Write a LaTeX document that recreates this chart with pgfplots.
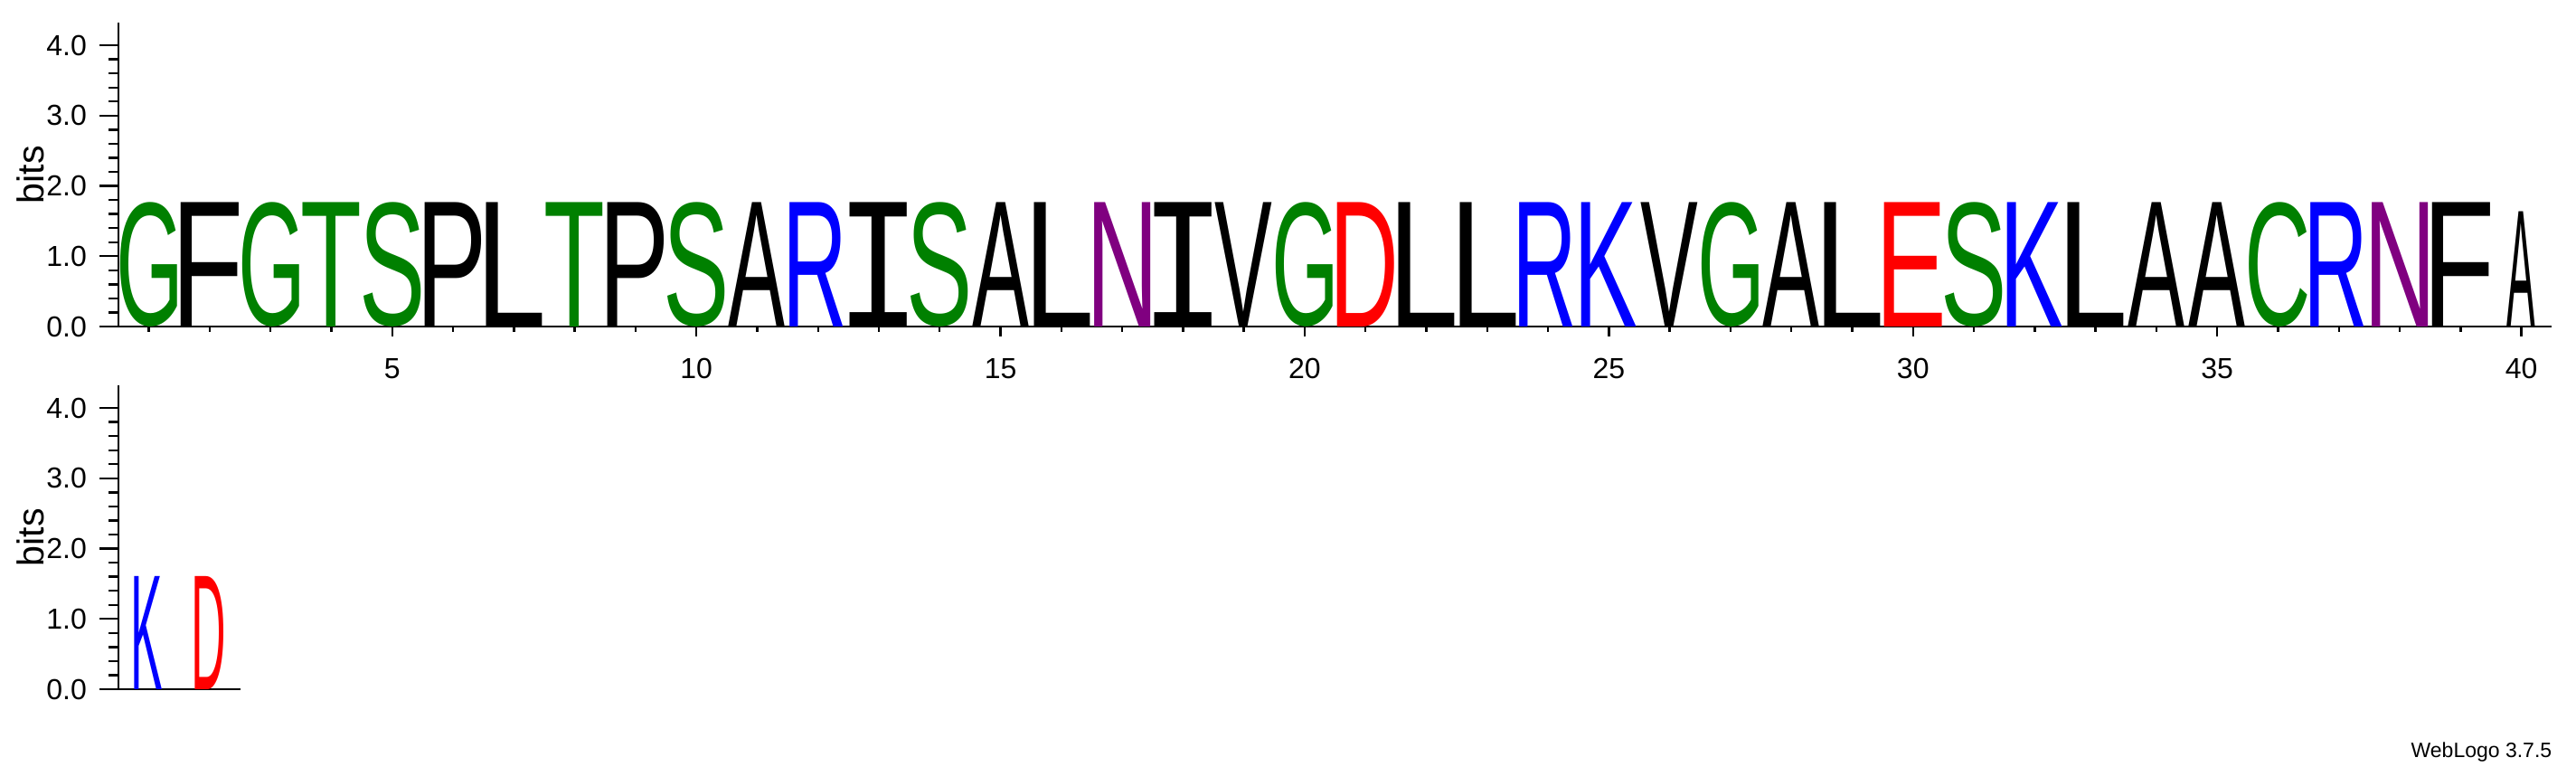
\documentclass[border=0pt]{standalone}
\usepackage{pgfplots}
\usepackage{pgfplotstable}
\pgfplotsset{compat=1.18}
\usepackage{graphicx}
\usepackage{fontspec}
\setmainfont{Liberation Sans}
\newfontfamily\logofont{Liberation Sans}
\newfontfamily\logomono{Liberation Mono}

% residue colours (chemistry scheme)
\definecolor{polar}{RGB}{0,128,0}
\definecolor{neutral}{RGB}{128,0,128}
\definecolor{basic}{RGB}{0,0,255}
\definecolor{acidic}{RGB}{255,0,0}
\colorlet{cG}{polar}\colorlet{cS}{polar}\colorlet{cT}{polar}\colorlet{cC}{polar}
\colorlet{cN}{neutral}
\colorlet{cK}{basic}\colorlet{cR}{basic}
\colorlet{cD}{acidic}\colorlet{cE}{acidic}
\colorlet{cA}{black}\colorlet{cF}{black}\colorlet{cI}{black}\colorlet{cL}{black}
\colorlet{cP}{black}\colorlet{cV}{black}

% one position and one bit, as lengths
\newdimen\xu \xu=16.82pt
\newdimen\yu \yu=19.43pt

% glyphs trimmed to their ink (side bearings in em)
\def\defglyph#1#2#3{\expandafter\def\csname glyph#1\endcsname{\hbox{\logofont\kern-#2em #1\kern-#3em}}}
\defglyph{A}{0}{0}
\defglyph{C}{0.050}{0.053}
\defglyph{D}{0.077}{0.053}
\defglyph{E}{0.079}{0.054}
\defglyph{F}{0.082}{0.049}
\defglyph{G}{0.048}{0.076}
\defglyph{K}{0.073}{0}
\defglyph{L}{0.073}{0.034}
\defglyph{N}{0.076}{0.079}
\defglyph{P}{0.077}{0.053}
\defglyph{R}{0.079}{0.010}
\defglyph{S}{0.046}{0.048}
\defglyph{T}{0.023}{0.020}
\defglyph{V}{0.004}{0.004}
\expandafter\def\csname glyphI\endcsname{\hbox{\logomono\kern-0.1em I\kern-0.1em}}

\newcommand\logoletter[3]{\edef\tmpl{#1}\textcolor{c\tmpl}{\resizebox*{#2\xu}{#3\yu}{\csname glyph\tmpl\endcsname}}}

\pgfplotstableread{
x h w letter
1 1.77 0.936 G
2 1.77 0.936 F
3 1.77 0.936 G
4 1.77 0.936 T
5 1.77 0.936 S
6 1.77 0.936 P
7 1.77 0.936 L
8 1.77 0.936 T
9 1.77 0.936 P
10 1.77 0.936 S
11 1.77 0.936 A
12 1.77 0.936 R
13 1.77 0.936 I
14 1.77 0.936 S
15 1.77 0.936 A
16 1.77 0.936 L
17 1.77 0.936 N
18 1.77 0.936 I
19 1.77 0.936 V
20 1.77 0.936 G
21 1.77 0.936 D
22 1.77 0.936 L
23 1.77 0.936 L
24 1.77 0.936 R
25 1.77 0.936 K
26 1.77 0.936 V
27 1.77 0.936 G
28 1.77 0.936 A
29 1.77 0.936 L
30 1.77 0.936 E
31 1.77 0.936 S
32 1.77 0.936 K
33 1.77 0.936 L
34 1.77 0.936 A
35 1.77 0.936 A
36 1.77 0.936 C
37 1.77 0.936 R
38 1.77 0.936 N
39 1.77 0.936 F
40 1.64 0.47 A
}\toprow

\pgfplotstableread{
x h w letter
1 1.61 0.47 K
2 1.61 0.47 D
}\bottomrow

\pgfplotsset{
  logo/.style={
    anchor=south west,
    x=16.82pt, y=19.43pt,
    ymin=0, ymax=4.3219,
    axis x line*=bottom, axis y line*=left,
    axis line style={line width=0.65pt},
    tick align=outside,
    tick style={black, line width=0.6pt},
    major tick length=5.25pt, minor tick length=2.7pt,
    major x tick style={/pgfplots/major tick length=2.7pt},
    minor x tick style={/pgfplots/minor tick length=1.4pt},
    ytick={0,1,2,3,4}, minor y tick num=4,
    tick label style={font=\fontsize{8}{9.5}\selectfont},
    yticklabel style={/pgf/number format/.cd, fixed, fixed zerofill, precision=1},
    /pgf/number format/assume math mode=true,
    ylabel={bits},
    ylabel style={at={(rel axis cs:0,0.5)}, anchor=south, inner sep=0pt,
      yshift=20.25pt, font=\fontsize{10.3}{12}\selectfont},
  },
  letters/.style={
    draw=none, mark=none,
    point meta=explicit symbolic,
    visualization depends on={\thisrow{w}\as\lw},
    visualization depends on={\thisrow{h}\as\lh},
    nodes near coords={\logoletter{\pgfplotspointmeta}{\lw}{\lh}},
    nodes near coords align={below},
    every node near coord/.append style={inner sep=0pt, outer sep=0pt},
  },
}

\begin{document}
\begin{tikzpicture}
\path[use as bounding box] (0pt,0pt) rectangle (712.25pt,211.75pt);

\begin{axis}[logo, at={(32.75pt,121.5pt)},
  xmin=0.5, xmax=40.5,
  xtick={5,10,...,40}, minor xtick={1,...,40}]
\addplot[letters] table[x=x, y=h, meta=letter] {\toprow};
\end{axis}

\begin{axis}[logo, at={(32.75pt,21.25pt)},
  xmin=0.5, xmax=2.5,
  xtick=\empty, minor xtick={1,2}]
\addplot[letters] table[x=x, y=h, meta=letter] {\bottomrow};
\end{axis}

\node[anchor=base east, inner sep=0pt, font=\fontsize{5.75}{7}\selectfont]
  at (705.75pt,2.5pt) {WebLogo 3.7.5};
\end{tikzpicture}
\end{document}
